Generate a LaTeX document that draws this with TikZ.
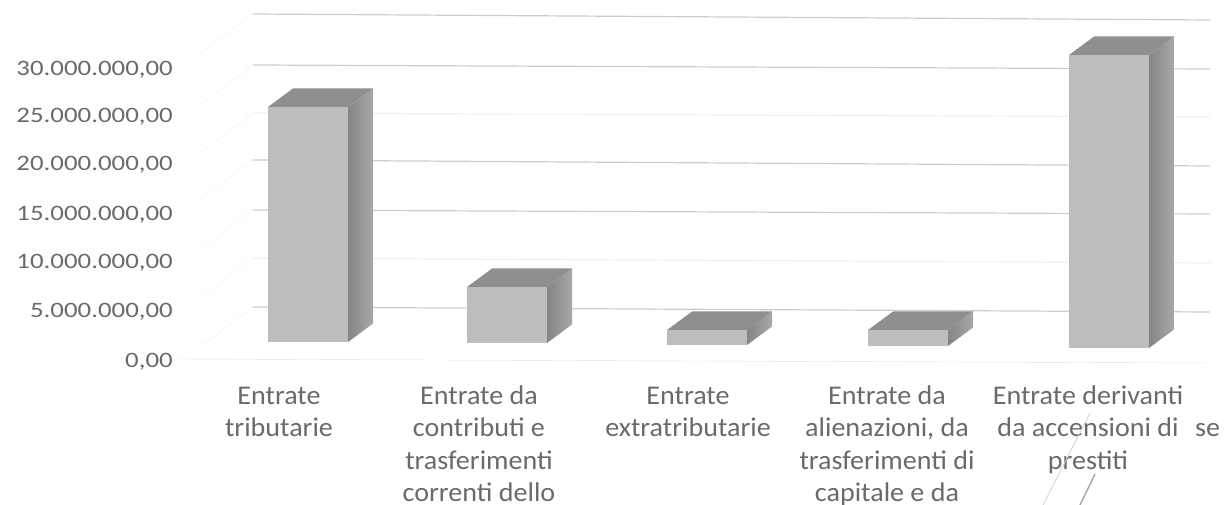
\documentclass[tikz,border=0pt]{standalone}
\usepackage{fontspec}
\setmainfont{Carlito}
\usepackage{tikz}
\definecolor{labgray}{HTML}{6A6A6A}
\definecolor{frontgray}{HTML}{BDBDBD}
\definecolor{topgray}{HTML}{8F8F8F}
\definecolor{sidedark}{HTML}{858585}
\definecolor{sidelight}{HTML}{A8A8A8}
\def\colbar#1#2#3{% front left x, top y, bottom y
  \fill[topgray] (#1,#2) -- ++(25,-18.5) -- ++(80,0) -- (#1+80,#2) -- cycle;
  \shade[left color=sidedark,right color=sidelight] (#1+80,#2) -- ++(25,-18.5) -- (#1+105,#3-18.5) -- (#1+80,#3) -- cycle;
  \fill[frontgray] (#1,#2) rectangle (#1+80,#3);}
\def\gline{\draw[line width=1.2pt]}
\tikzset{
  ylab/.style={anchor=east,inner sep=0pt,text=labgray,font=\fontsize{22}{26}\selectfont,xscale=1.22},
  catlab/.style={anchor=north,inner sep=0pt,align=center,text=labgray,font=\fontsize{27}{32.5}\selectfont,xscale=1.04},
}

\begin{document}
\begin{tikzpicture}[x=1pt,y=-1pt]
  \useasboundingbox (0,0) rectangle (1227,505);
  % back wall and left wall
  \foreach \l/\r/\c in {14/20/40,65/69/40,113/117/12,160/166/40,210/214/40,258/263/12,307/312/40}
    \gline[gray!\c] (253,\l) -- (1210,\r);
  \foreach \l in {14,65,113,160,210,258,307}
    \draw[gray!15,dotted,line width=1pt] (253,\l) -- ++(-53,40);
  \draw[gray!25] (178,359) -- (1210,363);
  % columns
  \colbar{268}{107}{342}
  \colbar{467}{287}{343}
  \colbar{667}{330}{345}
  \colbar{868}{330}{346}
  \colbar{1069}{55}{348}
  % value axis
  \foreach \v/\yy [count=\i] in {{0,00}/362,{5.000.000,00}/312,{10.000.000,00}/263,{15.000.000,00}/215,{20.000.000,00}/165,{25.000.000,00}/117,{30.000.000,00}/70}
    \node[ylab] (y\i) at (173,\yy) {\v};
  % categories (top of first strut = baseline 404 - 22.75)
  \node[catlab] (trib) at (279,381.25) {\strut Entrate\\tributarie};
  \node[catlab] (contr) at (479,381.25) {\strut Entrate da\\contributi e\\trasferimenti\\correnti dello};
  \node[catlab] (extra) at (688,381.25) {\strut Entrate\\extratributarie};
  \node[catlab] (alien) at (887,381.25) {\strut Entrate da\\alienazioni, da\\trasferimenti di\\capitale e da};
  \node[catlab] (prest) at (1088,381.25) {\strut Entrate derivanti\\da accensioni di\\prestiti};
  \node[catlab,anchor=base west] (stray) at (1195,436.5) {se};
  % pen marks
  \draw[gray!35,line width=0.8pt] (1043,505) -- (1090,413);
  \draw[gray!70,line width=1.4pt] (1080,505) -- (1095,474);
\end{tikzpicture}
\end{document}
